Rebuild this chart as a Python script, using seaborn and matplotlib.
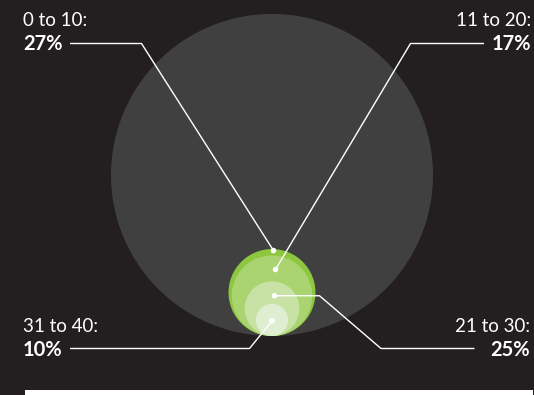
import matplotlib
matplotlib.use("Agg")
import matplotlib.pyplot as plt
from matplotlib.patches import Circle, Rectangle
import seaborn as sns
import pandas as pd

# ---- data ----
groups = ["0 to 10", "11 to 20", "21 to 30", "31 to 40"]
shares = [27, 17, 25, 10]          # percent
total_share = 100

# ---- style ----
BG = "#231f20"
BIG = "#404040"
greens = ["#8dc63f", "#a9d46f", "#c7e2a4", "#dfeed0"]  # by size rank (largest first)

sns.set_theme(style="white")
plt.rcParams["font.family"] = ["Lato", "DejaVu Sans"]

W, H = 534, 395
fig = plt.figure(figsize=(W / 100, H / 100), dpi=100, facecolor=BG)
ax = fig.add_axes([0, 0, 1, 1])
ax.set_facecolor(BG)

# layout: big circle (=100%) and bottom tangent point
cx, bottom, R = 272, 336, 161
scale = R / total_share

ax.add_patch(Circle((cx, bottom - R), R, facecolor=BIG, edgecolor="none", zorder=1))

df = pd.DataFrame({"group": groups, "share": shares})
df["r"] = df["share"] * scale
df["cy"] = bottom - df["r"]
order = df.sort_values("share", ascending=False).reset_index(drop=True)
for i, row in order.iterrows():
    ax.add_patch(Circle((cx, row["cy"]), row["r"], facecolor=greens[i],
                        edgecolor="none", zorder=2 + i))

# leader lines: anchor dot, path points (layout), label side
r_of = dict(zip(df["group"], df["r"]))
cy_of = dict(zip(df["group"], df["cy"]))
anchors = {
    "0 to 10": (cx + 1.5, cy_of["0 to 10"] - r_of["0 to 10"] + 1.5),
    "11 to 20": (cx + 3.5, 269.5),
    "21 to 30": (cx + 2.5, cy_of["21 to 30"]),
    "31 to 40": (cx, cy_of["31 to 40"] + 1),
}
paths = {
    "0 to 10": [(70, 43.5), (141.5, 43.5)],
    "11 to 20": [(484, 43.5), (410.5, 43.5)],
    "21 to 30": [(474.5, 348.5), (381, 348.5), (319.5, anchors["21 to 30"][1])],
    "31 to 40": [(70, 348.5), (249.5, 348.5)],
}
for g in groups:
    pts = paths[g] + [anchors[g]]
    xs = [p[0] for p in pts]
    ys = [p[1] for p in pts]
    ax.plot(xs, ys, color="white", lw=1.0, zorder=10, solid_capstyle="butt")

dots = pd.DataFrame({"x": [anchors[g][0] for g in groups],
                     "y": [anchors[g][1] for g in groups]})
sns.scatterplot(data=dots, x="x", y="y", ax=ax, color="white", s=16,
                edgecolor="none", zorder=11, legend=False)
ax.set_xlim(0, W)
ax.set_ylim(H, 0)
ax.set_axis_off()

# labels
label_pos = {
    "0 to 10": (23, 26.5, "left"),
    "11 to 20": (531, 26.5, "right"),
    "21 to 30": (530, 332, "right"),
    "31 to 40": (23, 332, "left"),
}
share_of = dict(zip(groups, shares))
for g in groups:
    x, y, ha = label_pos[g]
    ax.text(x, y, f"{g}:", color="white", fontsize=13.5, fontweight="normal",
            ha=ha, va="baseline", zorder=12)
    ax.text(x, y + 23.5, f"{share_of[g]}%", color="white", fontsize=14.5,
            fontweight="bold", ha=ha, va="baseline", zorder=12)

# white strip at the bottom
ax.add_patch(Rectangle((24.5, 389.5), 508, 10, facecolor="white",
                       edgecolor="none", zorder=12))

fig.savefig("out.png", dpi=100, facecolor=BG)
